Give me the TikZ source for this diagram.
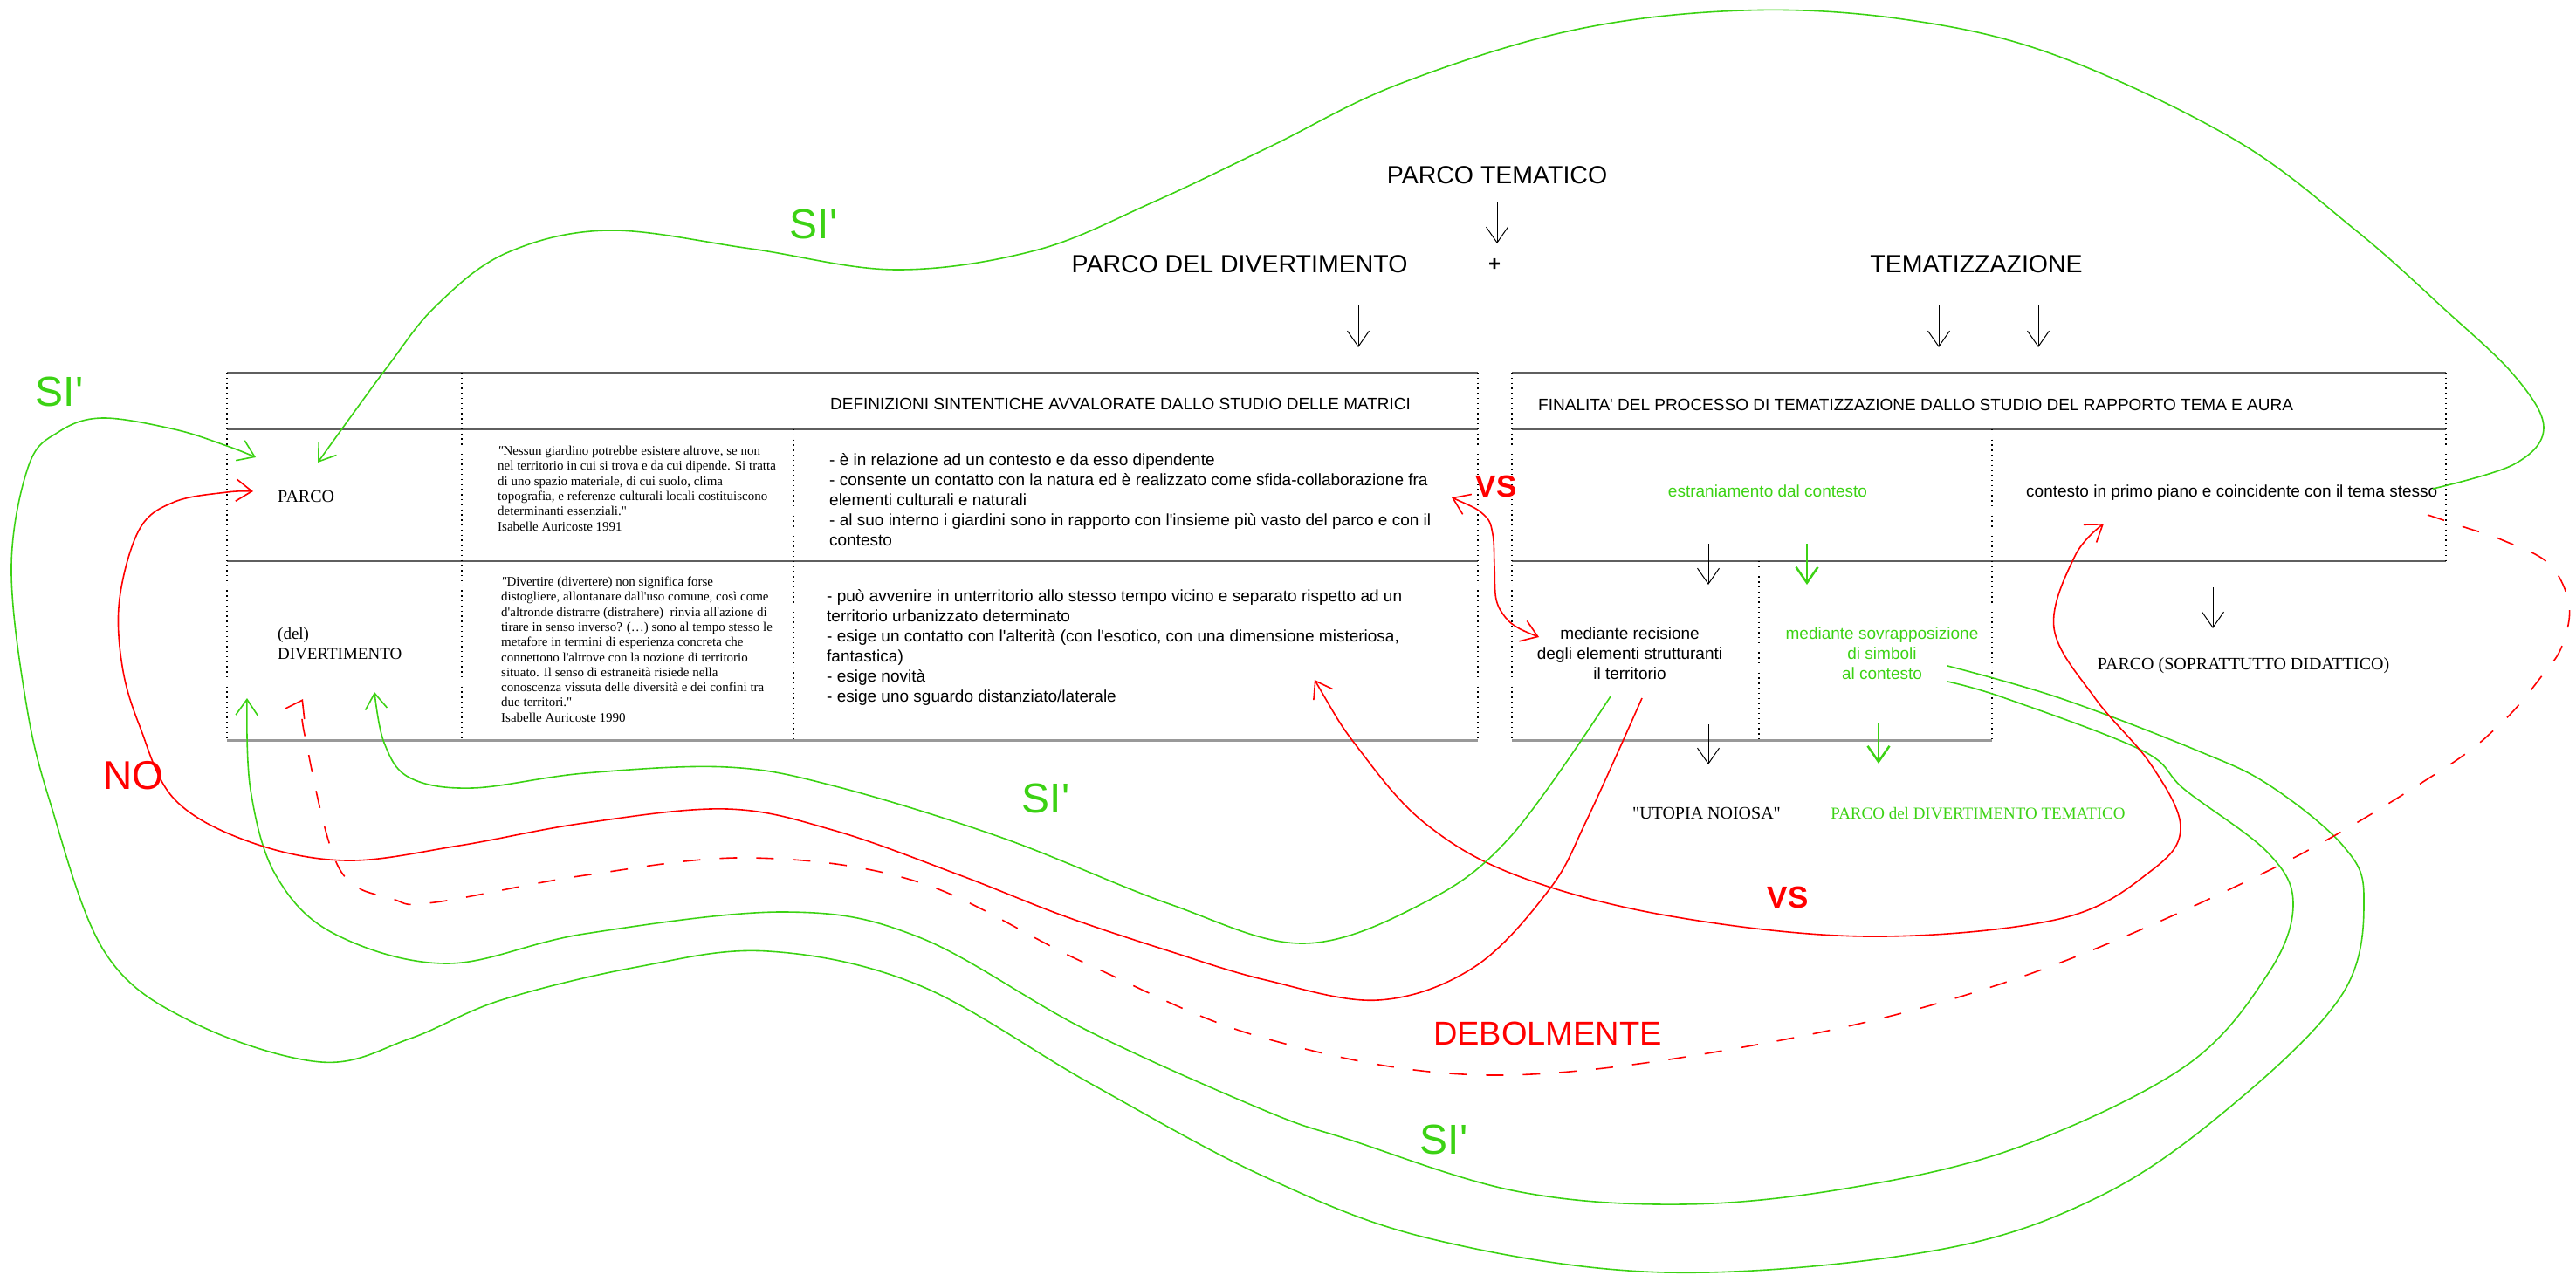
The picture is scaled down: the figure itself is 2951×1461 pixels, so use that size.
\documentclass[tikz,border=0pt]{standalone}
\usepackage{fontspec}
\setmainfont{Liberation Serif}[Ligatures=TeXOff]
\setsansfont{Liberation Sans}[Ligatures=TeXOff]
\usetikzlibrary{arrows.meta}
\definecolor{grn}{RGB}{60,210,20}
\definecolor{rdd}{RGB}{255,0,0}
\definecolor{tline}{RGB}{95,95,95}
\newcommand\tb[2]{\begin{tabular}[t]{@{}#1@{}}#2\end{tabular}}
\begin{document}
\begin{tikzpicture}[x=1pt,y=-1pt,
  >={Straight Barb[length=18pt,width=25pt]},
  sa/.style={font=\sffamily\fontsize{19}{23}\selectfont,inner sep=0pt},
  big/.style={font=\sffamily\fontsize{28.5}{34}\selectfont,inner sep=0pt},
  tq/.style={font=\rmfamily\fontsize{15}{17.3}\selectfont,inner sep=0pt},
  tr/.style={font=\rmfamily\fontsize{20}{23}\selectfont,inner sep=0pt},
  lab/.style={font=\sffamily\fontsize{#1}{#1}\selectfont,inner sep=0pt},
  labb/.style={font=\sffamily\bfseries\fontsize{#1}{#1}\selectfont,inner sep=0pt},
  hl/.style={draw=tline,line width=1.6pt},
  hlb/.style={draw=gray!80,line width=3pt},
  vd/.style={draw=black,line width=1.2pt,dash pattern=on 1.3pt off 4.5pt},
  gc/.style={draw=grn,line width=1.6pt},
  rc/.style={draw=rdd,line width=1.6pt},
  ba/.style={draw=black,line width=1pt,->},
  ga/.style={draw=grn,line width=2.5pt,->}]
\useasboundingbox (0,0) rectangle (2951,1461);

% ---------- tables ----------
\draw[hl] (260,427) -- (1693,427);
\draw[hl] (260,492) -- (1693,492);
\draw[hl] (260,643) -- (1693,643);
\draw[hlb] (260,848) -- (1693,848);
\draw[vd] (260,427) -- (260,848);
\draw[vd] (529,427) -- (529,848);
\draw[vd] (909,492) -- (909,848);
\draw[vd] (1693,427) -- (1693,848);
\draw[hl] (1732,427) -- (2802,427);
\draw[hl] (1732,492) -- (2802,492);
\draw[hl] (1732,643) -- (2802,643);
\draw[hlb] (1732,848) -- (2282,848);
\draw[vd] (1732,427) -- (1732,848);
\draw[vd] (2282,492) -- (2282,848);
\draw[vd] (2015,643) -- (2015,848);
\draw[vd] (2802,427) -- (2802,643);

% ---------- titles ----------
\node[big,anchor=base] (pt) at (1715,210) {PARCO TEMATICO};
\node[big,anchor=base] (pdd) at (1420,312) {PARCO DEL DIVERTIMENTO};
\node[labb=24,anchor=base] (plus) at (1712,310) {+};
\node[big,anchor=base] (tem) at (2264,312) {TEMATIZZAZIONE};

\node[sa,anchor=base west] (h1) at (951,469) {DEFINIZIONI SINTENTICHE AVVALORATE DALLO STUDIO DELLE MATRICI};
\node[sa,anchor=base west] (h2) at (1762,470) {FINALITA' DEL PROCESSO DI TEMATIZZAZIONE DALLO STUDIO DEL RAPPORTO TEMA E AURA};

% ---------- left table content ----------
\node[tr,anchor=base west] (parco) at (318,575) {PARCO};
\node[font=\rmfamily\fontsize{19}{23}\selectfont,inner sep=0pt,anchor=base west] (divert) at (318,732) {\tb{l}{(del)\\DIVERTIMENTO}};

\node[tq,anchor=base west] (q1) at (570,521.5) {\tb{l}{{\itshape"}Nessun giardino potrebbe esistere altrove, se non\\
nel territorio in cui si trova e da cui dipende. Si tratta\\
di uno spazio materiale, di cui suolo, clima\\
topografia, e referenze culturali locali costituiscono\\
determinanti essenziali."\\
Isabelle Auricoste 1991}};

\node[tq,anchor=base west] (q2) at (574,671.5) {\tb{l}{{\itshape"}Divertire (divertere) non significa forse\\
distogliere, allontanare dall'uso comune, così come\\
d'altronde distrarre (distrahere) \ rinvia all'azione di\\
tirare in senso inverso? (…) sono al tempo stesso le\\
metafore in termini di esperienza concreta che\\
connettono l'altrove con la nozione di territorio\\
situato. Il senso di estraneità risiede nella\\
conoscenza vissuta delle diversità e dei confini tra\\
due territori."\\
Isabelle Auricoste 1990}};

\node[sa,anchor=base west] (b1) at (950,533) {\tb{l}{- è in relazione ad un contesto e da esso dipendente\\
- consente un contatto con la natura ed è realizzato come sfida-collaborazione fra\\
elementi culturali e naturali\\
- al suo interno i giardini sono in rapporto con l'insieme più vasto del parco e con il\\
contesto}};

\node[sa,anchor=base west] (b2) at (947,689) {\tb{l}{- può avvenire in unterritorio allo stesso tempo vicino e separato rispetto ad un\\
territorio urbanizzato determinato\\
- esige un contatto con l'alterità (con l'esotico, con una dimensione misteriosa,\\
fantastica)\\
- esige novità\\
- esige uno sguardo distanziato/laterale}};

% ---------- right table content ----------
\node[sa,anchor=base,text=grn] (estr) at (2025,569) {estraniamento dal contesto};
\node[sa,anchor=base west] (cont) at (2321,569) {contesto in primo piano e coincidente con il tema stesso};
\node[sa,anchor=base] (rec) at (1867,732) {\tb{c}{mediante recisione\\degli elementi strutturanti\\il territorio}};
\node[sa,anchor=base,text=grn] (sov) at (2156,732) {\tb{c}{mediante sovrapposizione\\di simboli\\al contesto}};
\node[tr,anchor=base] (did) at (2570,767) {PARCO (SOPRATTUTTO DIDATTICO)};
\node[tr,anchor=base] (uto) at (1955,938) {"UTOPIA NOIOSA"};
\node[font=\rmfamily\fontsize{19}{23}\selectfont,inner sep=0pt,anchor=base,text=grn] (pdt) at (2266,938) {PARCO del DIVERTIMENTO TEMATICO};

% ---------- labels ----------
\node[lab=48,text=grn,anchor=base] (si1) at (932,273) {SI'};
\node[lab=48,text=grn,anchor=base] (si2) at (68,465) {SI'};
\node[lab=48,text=grn,anchor=base] (si3) at (1198,931) {SI'};
\node[lab=48,text=grn,anchor=base] (si4) at (1654,1322) {SI'};
\node[lab=46,text=rdd,anchor=base] (no) at (153,904) {NO};
\node[labb=35,text=rdd,anchor=base] (vs1) at (1714,569) {VS};
\node[labb=35,text=rdd,anchor=base] (vs2) at (2048,1040) {VS};
\node[lab=38,text=rdd,anchor=base] (deb) at (1773,1197) {DEBOLMENTE};

% ---------- straight arrows ----------
\coordinate (a1s) at (1715,232); \coordinate (a1e) at (1715,279);
\coordinate (a2s) at (1556,350); \coordinate (a2e) at (1556,398);
\coordinate (a3s) at (2221,350); \coordinate (a3e) at (2221,398);
\coordinate (a4s) at (2335,350); \coordinate (a4e) at (2335,398);
\coordinate (a5s) at (1957,623); \coordinate (a5e) at (1957,670);
\coordinate (a6s) at (2070,623); \coordinate (a6e) at (2070,670);
\coordinate (a7s) at (2535,673); \coordinate (a7e) at (2535,720);
\coordinate (a8s) at (1957,830); \coordinate (a8e) at (1957,876);
\coordinate (a9s) at (2152,828); \coordinate (a9e) at (2152,875);
\draw[ba] (a1s) -- (a1e);
\draw[ba] (a2s) -- (a2e);
\draw[ba] (a3s) -- (a3e);
\draw[ba] (a4s) -- (a4e);
\draw[ba] (a5s) -- (a5e);
\draw[ga] (a6s) -- (a6e);
\draw[ba] (a7s) -- (a7e);
\draw[ba] (a8s) -- (a8e);
\draw[ga] (a9s) -- (a9e);

% ---------- curves ----------
\coordinate (aS) at (2787,560); \coordinate (aE) at (364,530);
\draw[gc,->] plot[smooth,tension=0.6] coordinates {(aS) (2880,532) (2914,490) (2880,430) (2800,354) (2700,265) (2560,160) (2354,63) (2180,22) (1996,12) (1800,35) (1601,97) (1455,168) (1318,233) (1186,287) (1026,309) (860,285) (697,264) (580,290) (500,350) (444,420) (aE)};

\coordinate (bS) at (2231,763); \coordinate (bE) at (293,524);
\draw[gc,->] plot[smooth,tension=0.6] coordinates {(bS) (2360,800) (2517,860) (2600,900) (2684,969) (2708,1028) (2684,1138) (2560,1264) (2407,1370) (2216,1433) (1909,1458) (1641,1420) (1450,1349) (1250,1242) (1053,1129) (880,1090) (730,1108) (574,1146) (470,1190) (368,1217) (220,1171) (120,1091) (57,918) (29,800) (13,648) (33,533) (67,495) (117,479) (200,492) (260,511) (bE)};

\coordinate (cS) at (2231,781); \coordinate (cE) at (283,800);
\draw[gc,->] plot[smooth,tension=0.6] coordinates {(cS) (2297,800) (2454,860) (2503,905) (2598,977) (2627,1036) (2598,1116) (2503,1222) (2311,1315) (2120,1361) (1928,1380) (1737,1365) (1546,1306) (1450,1273) (1244,1180) (1053,1074) (900,1045) (670,1070) (512,1104) (383,1070) (316,1003) (287,905) (cE)};

\coordinate (dS) at (1881,800); \coordinate (dE) at (290,563);
\draw[rc,->] plot[smooth,tension=0.6] coordinates {(dS) (1818,939) (1775,1019) (1689,1108) (1579,1146) (1450,1123) (1340,1090) (1220,1050) (1100,1003) (957,952) (833,927) (670,943) (526,969) (397,986) (287,965) (200,916) (160,832) (140,763) (137,686) (160,606) (200,575) (260,564) (dE)};

\coordinate (eS) at (2781,590); \coordinate (eE) at (347,801);
\draw[rc,dash pattern=on 20pt off 22pt,->] plot[smooth,tension=0.6] coordinates {(eS) (2823,604) (2867,619) (2920,646) (2943,693) (2935,740) (2913,773) (2867,827) (2793,885) (2598,998) (2311,1121) (2024,1195) (1708,1232) (1450,1190) (1244,1104) (1053,1011) (861,983) (670,1003) (498,1034) (450,1030) (388,994) (349,842) (eE)};

\coordinate (fS) at (1506,779); \coordinate (fE) at (2410,600);
\draw[rc,<->] plot[smooth,tension=0.6] coordinates {(fS) (1558,860) (1632,943) (1737,1003) (1909,1049) (2139,1073) (2359,1053) (2464,998) (2498,948) (2464,876) (2400,800) (2353,720) (2377,637) (fE)};

\coordinate (gS) at (1845,798); \coordinate (gE) at (429,793);
\draw[gc,->] plot[smooth,tension=0.6] coordinates {(gS) (1731,958) (1632,1034) (1493,1081) (1340,1036) (1148,960) (957,901) (833,879) (670,886) (541,903) (469,891) (440,851) (gE)};

\coordinate (hS) at (1663,570); \coordinate (hE) at (1763,730);
\draw[rc,<->] plot[smooth,tension=0.6] coordinates {(hS) (1700,590) (1710,612) (1712,650) (1714,687) (1725,708) (1740,720) (hE)};
\end{tikzpicture}
\end{document}
